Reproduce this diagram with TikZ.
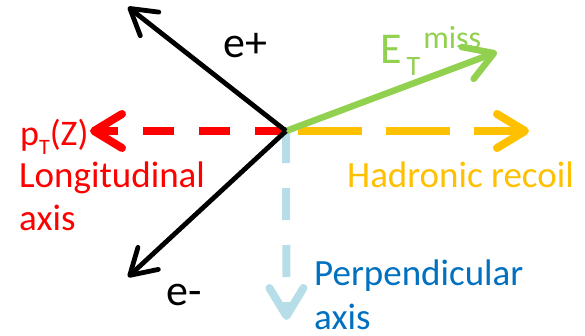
\documentclass[tikz,border=0pt]{standalone}
\usepackage{fontspec}
\setmainfont{Carlito}
\usetikzlibrary{arrows.meta}
\definecolor{cred}{HTML}{FF0000}
\definecolor{cgreen}{HTML}{92D050}
\definecolor{corange}{HTML}{FFC000}
\definecolor{clight}{HTML}{B7DEE8}
\definecolor{cblue}{HTML}{0070C0}
\tikzset{
  blkarrow/.style={draw=black, line width=4.8pt, -{Straight Barb[length=25pt,width=30pt,round]}},
  colarrow/.style={line width=8pt, -{Straight Barb[length=28pt,width=34pt,round]}},
  lbl/.style={anchor=base west, inner sep=0pt, font=\fontsize{37}{37}\selectfont},
  elbl/.style={anchor=base west, inner sep=0pt, font=\fontsize{44}{44}\selectfont},
}
\begin{document}
\begin{tikzpicture}[x=1pt,y=-1pt]
\useasboundingbox (0,0) rectangle (585,335);
\coordinate (O) at (286,131);
\coordinate (ep) at (128,7);
\coordinate (em) at (128,277);
\coordinate (lz) at (90,131);
\coordinate (hr) at (529,131);
\coordinate (mt) at (497,52);
\coordinate (pp) at (286.5,320);
% arrows
\draw[colarrow, draw=clight, dash pattern=on 32pt off 25pt] (O) -- (pp);
\draw[colarrow, draw=corange, dash pattern=on 64pt off 24pt, dash phase=76pt] (O) -- (hr);
\draw[colarrow, draw=cgreen, line width=6.5pt] (O) -- (mt);
\draw[colarrow, draw=cred, dash pattern=on 31pt off 25pt] (O) -- (lz);
\draw[blkarrow] (O) -- (ep);
\draw[blkarrow] (O) -- (em);
% labels
\node[elbl] (lep) at (223,57) {e+};
\node[elbl] (lem) at (166,305) {e-};
\node[anchor=base west, inner sep=0pt, text=cgreen] (lmet) at (380,63)
  {\fontsize{44}{44}\selectfont E\hspace{5pt}\raisebox{-12pt}{\fontsize{28}{28}\selectfont T}\hspace{3pt}\raisebox{15pt}{\fontsize{32}{32}\selectfont miss}};
\node[anchor=base west, inner sep=0pt, text=cred] (lpt) at (20,145)
  {\fontsize{36}{36}\selectfont p\raisebox{-9pt}{\fontsize{22}{22}\selectfont T}(Z)};
\node[lbl, text=cred] (llong) at (19,187) {Longitudinal};
\node[lbl, text=cred] (laxis1) at (19,230) {axis};
\node[lbl, text=corange] (lhad) at (347,187) {Hadronic recoil};
\node[lbl, text=cblue] (lperp) at (314,285) {Perpendicular};
\node[lbl, text=cblue] (laxis2) at (314,329) {axis};
\end{tikzpicture}
\end{document}
